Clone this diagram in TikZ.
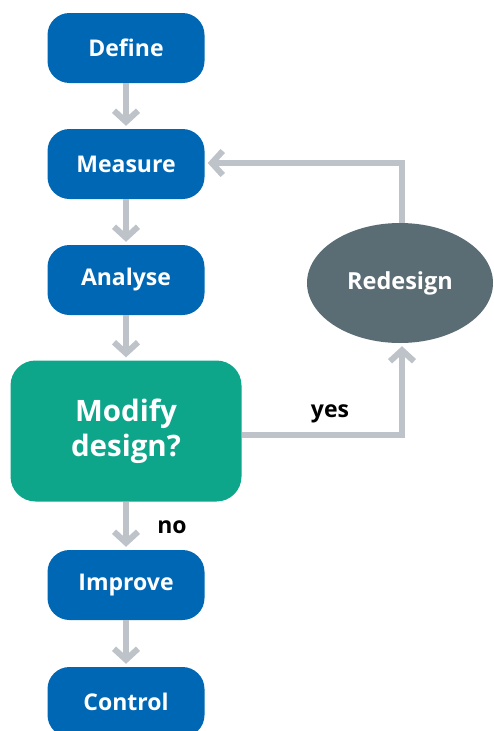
\documentclass[tikz,border=0pt]{standalone}
\usepackage{fontspec}
\setmainfont{Open Sans}
\usetikzlibrary{arrows.meta, shapes.geometric}
\definecolor{StepBlue}{RGB}{0,103,180}
\definecolor{DecideGreen}{RGB}{13,166,139}
\definecolor{RedoGrey}{RGB}{90,108,116}
\definecolor{FlowGrey}{RGB}{189,195,200}
\tikzstyle{step_box}=[rectangle,
        minimum width=157pt,
        minimum height=70pt,
        fill=StepBlue,
        rounded corners=22pt,
        text=white,
        font=\bfseries\fontsize{23}{27}\selectfont, ]
\tikzstyle{decide_box}=[rectangle,
        minimum width=231pt,
        minimum height=141pt,
        fill=DecideGreen,
        rounded corners=25pt,
        text=white,
        align=center,
        font=\bfseries\fontsize{29.5}{35}\selectfont, ]
\tikzstyle{redo_box}=[ellipse,
        minimum width=186pt,
        minimum height=120pt,
        fill=RedoGrey,
        text=white,
        font=\bfseries\fontsize{23.5}{27}\selectfont, ]
\tikzstyle{flow}=[draw=FlowGrey, line width=6pt,
        -{Straight Barb[length=11pt, width=24pt]},
        shorten >=3pt]
\tikzstyle{flow_label}=[font=\bfseries\fontsize{23}{27}\selectfont]

\begin{document}
\begin{tikzpicture}[x=1pt, y=-1pt]
    \useasboundingbox (0,0) rectangle (493,731);

    \node at (126, 48) (define) [step_box] {Define};
    \node at (126, 164) (measure) [step_box] {Measure};
    \node at (126, 280) (analyse) [step_box] {Analyse};
    \node at (126, 431) (modify) [decide_box] {Modify\\design?};
    \node at (126, 585) (improve) [step_box] {Improve};
    \node at (126, 702) (control) [step_box] {Control};
    \node at (400, 283) (redesign) [redo_box] {Redesign};

    \draw[flow] (define) -- (measure);
    \draw[flow] (measure) -- (analyse);
    \draw[flow] (analyse) -- (modify);
    \draw[flow] (modify) -- (improve);
    \draw[flow] (improve) -- (control);

    \coordinate (yes-corner) at (402, 435);
    \coordinate (back-corner) at (402, 163);
    \draw[flow] (modify.east |- yes-corner) -- (yes-corner) -- (redesign.south -| yes-corner);
    \draw[flow] (redesign.north -| back-corner) -- (back-corner) -- (measure.east |- back-corner);

    \node at (330, 414) (yes) [flow_label] {yes};
    \node at (172, 527) (no) [flow_label] {no};
\end{tikzpicture}
\end{document}
